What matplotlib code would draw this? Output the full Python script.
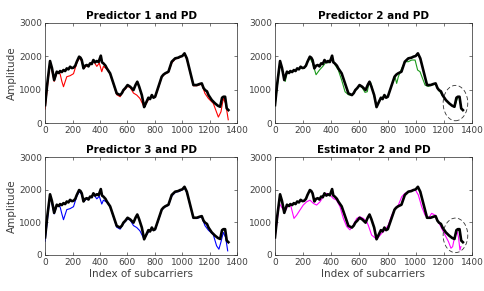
import matplotlib
matplotlib.use("Agg")
import matplotlib.pyplot as plt
from matplotlib.patches import Ellipse

# ---- data ----
pd_x = [0, 15, 36, 50, 66, 85, 100, 109, 122, 134, 146, 158, 170, 182, 195, 207, 220, 231, 248, 258, 267, 280, 292,
        304, 316, 328, 340, 352, 365, 377, 390, 406, 415, 425, 440, 450, 474, 498, 522, 547, 560, 571, 585, 601,
        620, 644, 660, 672, 685, 705, 722, 735, 753, 765, 778, 790, 802, 826, 850, 862, 875, 899, 923, 948,
        970, 984, 1000, 1010, 1016, 1033, 1057, 1081, 1106, 1125, 1142, 1155, 1166, 1180, 1191, 1215, 1239,
        1260, 1276, 1290, 1300, 1312, 1324, 1336]
pd_y = [540, 1150, 1860, 1650, 1290, 1540, 1500, 1560, 1530, 1590, 1560, 1640, 1610, 1690, 1650, 1660, 1720, 1840,
        1990, 1960, 1890, 1640, 1720, 1740, 1700, 1790, 1770, 1890, 1820, 1860, 1830, 2020, 1820, 1790, 1720,
        1640, 1490, 1190, 890, 840, 900, 990, 1050, 1140, 1090, 990, 1150, 1240, 1100, 840, 480, 600, 760, 720,
        840, 760, 790, 1090, 1390, 1450, 1490, 1540, 1840, 1940, 1960, 1990, 2010, 2060, 2090, 1940, 1540,
        1140, 1140, 1170, 1190, 1050, 990, 950, 840, 690, 590, 520, 490, 760, 790, 790, 440, 390]

p1_x = [0, 36, 66, 85, 109, 122, 134, 158, 182, 207, 231, 248, 267, 280, 304, 328, 352, 377, 395, 413, 425,
        450, 474, 498, 522, 547, 571, 601, 620, 644, 668, 691, 722, 753, 778, 802, 826, 850, 875, 899, 923, 948,
        984, 1016, 1033, 1057, 1081, 1106, 1142, 1165, 1190, 1226, 1263, 1282, 1299, 1316, 1335]
p1_y = [420, 1820, 1250, 1500, 1480, 1250, 1090, 1390, 1420, 1480, 1800, 1950, 1860, 1640, 1720, 1770, 1860,
        1700, 1800, 1540, 1700, 1620, 1470, 1170, 850, 790, 960, 1100, 1070, 900, 840, 740, 480, 700, 790, 770,
        1060, 1380, 1480, 1520, 1800, 1920, 1970, 2060, 1920, 1520, 1120, 1120, 1170, 890, 740, 590, 180, 340,
        740, 590, 100]

p2_x = [0, 36, 73, 85, 109, 134, 158, 182, 207, 231, 248, 267, 292, 316, 340, 365, 377, 406, 425, 450, 474,
        498, 522, 547, 571, 601, 620, 640, 656, 668, 680, 705, 722, 753, 778, 802, 830, 853, 865, 877, 901, 924,
        948, 972, 996, 1014, 1031, 1067, 1090, 1106, 1142, 1166, 1191, 1215, 1239, 1276, 1300, 1312, 1324, 1336]
p2_y = [520, 1800, 1250, 1500, 1520, 1560, 1620, 1660, 1640, 1820, 1960, 1800, 1450, 1590, 1700, 1840, 1800,
        1980, 1760, 1590, 1290, 940, 850, 830, 970, 1120, 1060, 920, 940, 1200, 1220, 820, 480, 740, 820, 780,
        1140, 1390, 1190, 1390, 1640, 1840, 1840, 1890, 1890, 1590, 1540, 1140, 1100, 1130, 1170, 980, 830, 680,
        580, 480, 780, 760, 430, 380]

p3_x = [0, 36, 66, 85, 109, 122, 134, 158, 182, 207, 231, 248, 267, 280, 304, 328, 352, 377, 395, 413, 425,
        450, 474, 498, 522, 547, 571, 601, 620, 644, 668, 691, 722, 753, 778, 802, 826, 850, 875, 899, 923, 948,
        984, 1016, 1033, 1057, 1081, 1106, 1142, 1165, 1190, 1226, 1250, 1267, 1282, 1299, 1316, 1331]
p3_y = [420, 1820, 1260, 1500, 1480, 1260, 1080, 1390, 1420, 1480, 1800, 1940, 1860, 1640, 1720, 1770, 1860,
        1720, 1800, 1560, 1680, 1620, 1470, 1170, 850, 790, 960, 1100, 1070, 900, 840, 740, 480, 700, 780, 770,
        1060, 1380, 1480, 1520, 1800, 1920, 1960, 2050, 1920, 1520, 1120, 1120, 1170, 900, 760, 620, 280, 175,
        400, 690, 535, 125]

e2_x = [0, 31, 59, 71, 95, 111, 135, 154, 178, 201, 225, 249, 273, 296, 320, 344, 367, 391, 415, 438, 462, 486,
        510, 533, 557, 581, 604, 628, 652, 664, 687, 723, 758, 782, 806, 830, 853, 877, 901, 924, 960, 996, 1019,
        1043, 1067, 1090, 1114, 1138, 1161, 1185, 1209, 1233, 1251, 1263, 1280, 1292, 1304, 1315, 1322]
e2_y = [510, 1580, 1380, 1330, 1530, 1530, 1120, 1220, 1380, 1530, 1630, 1680, 1580, 1530, 1630, 1790, 1890,
        1840, 1730, 1680, 1480, 1120, 870, 770, 920, 1120, 1170, 1120, 1020, 900, 610, 480, 660, 765, 920, 1220,
        1430, 1530, 1785, 1890, 1970, 2010, 1840, 1480, 1220, 1120, 1275, 1220, 1020, 815, 610, 410, 205, 255,
        610, 765, 560, 150, 255]

titles = ["Predictor 1 and PD", "Predictor 2 and PD", "Predictor 3 and PD", "Estimator 2 and PD"]
series = [(p1_x, p1_y), (p2_x, p2_y), (p3_x, p3_y), (e2_x, e2_y)]
colors = ["#ff0000", "#1a9a1a", "#0000ff", "#ff00ff"]
circled = [False, True, False, True]
xticks = [0, 200, 400, 600, 800, 1000, 1200, 1400]
yticks = [0, 1000, 2000, 3000]

fig = plt.figure(figsize=(4.85, 2.91), dpi=100)
positions = [
    [0.093, 0.577, 0.396, 0.344],
    [0.567, 0.577, 0.406, 0.344],
    [0.093, 0.124, 0.396, 0.336],
    [0.567, 0.124, 0.406, 0.336],
]
tick_color = "#404040"
for i, pos in enumerate(positions):
    ax = fig.add_axes(pos)
    sx, sy = series[i]
    ax.plot(sx, sy, color=colors[i], lw=0.8, zorder=2)
    ax.plot(pd_x, pd_y, color="black", lw=1.9, zorder=3)
    ax.set_xlim(0, 1400)
    ax.set_ylim(0, 3000)
    ax.set_xticks(xticks)
    ax.set_yticks(yticks)
    ax.tick_params(direction="in", length=2.5, width=0.5, labelsize=6.5, colors=tick_color,
                   top=True, right=True, pad=2)
    for sp in ax.spines.values():
        sp.set_linewidth(0.5)
        sp.set_color("#262626")
    ax.set_title(titles[i], fontsize=7.5, fontweight="bold", pad=3)
    if i % 2 == 0:
        ax.set_ylabel("Amplitude", fontsize=7.5, color=tick_color, labelpad=2)
    if i >= 2:
        ax.set_xlabel("Index of subcarriers", fontsize=7.5, color=tick_color, labelpad=1.5)
    if circled[i]:
        ax.add_patch(Ellipse((1283, 600), 175, 1060, fill=False, ls=(0, (5, 3)),
                             lw=0.6, edgecolor="#333333", zorder=4))

fig.savefig("out.png", dpi=100)
